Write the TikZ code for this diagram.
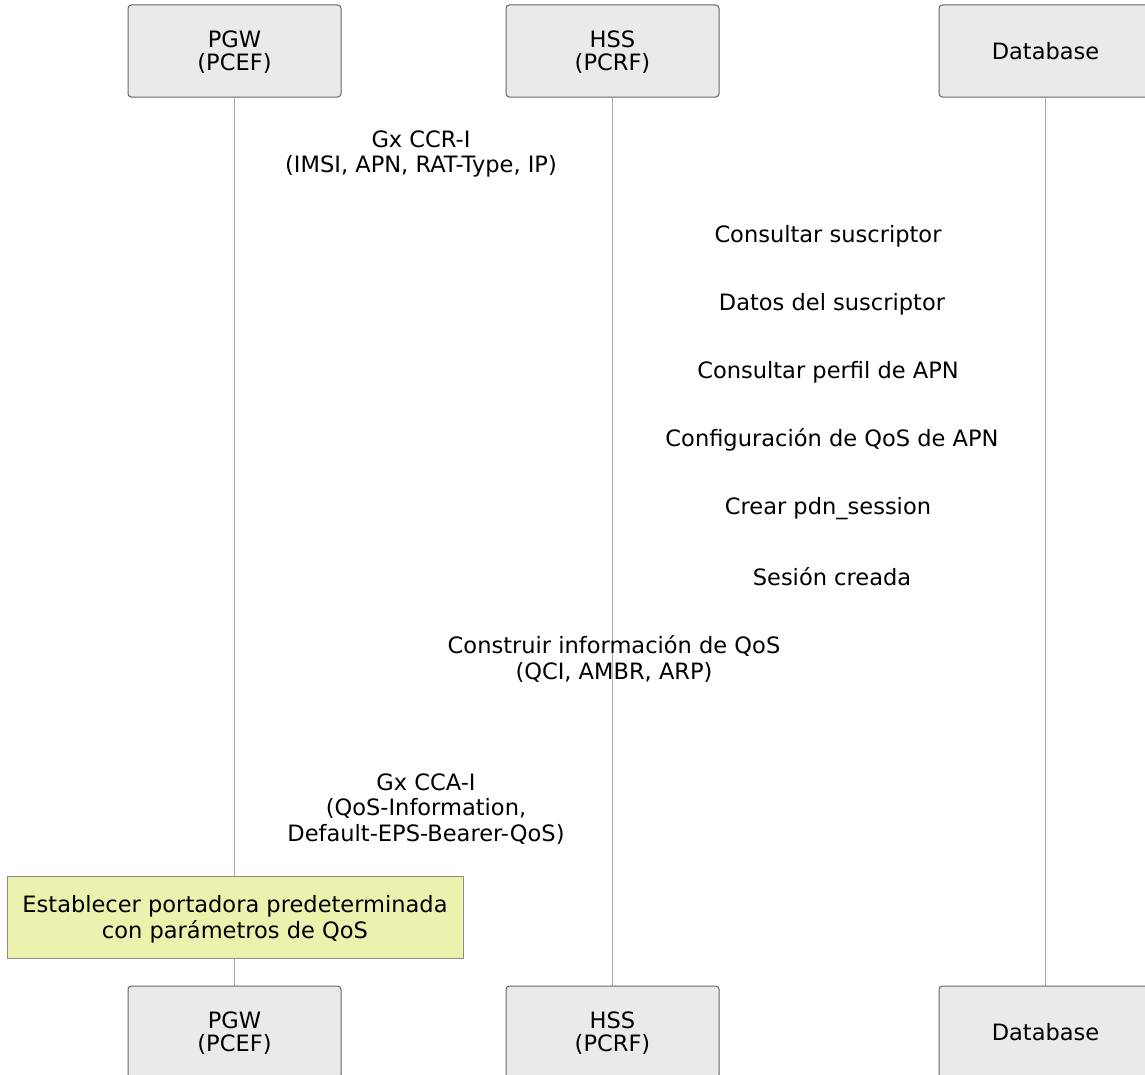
\documentclass[tikz,border=0pt]{standalone}
\usepackage{fontspec}
\setmainfont{DejaVu Sans}
\usepackage{tikz}
\usetikzlibrary{positioning}
\definecolor{boxfill}{RGB}{234,234,234}
\definecolor{boxline}{RGB}{102,102,102}
\definecolor{lifeline}{RGB}{170,170,170}
\definecolor{notefill}{RGB}{236,242,174}
\definecolor{noteline}{RGB}{140,140,140}
\tikzstyle{actor} = [rectangle, rounded corners=2.5pt, minimum width=159.75pt, minimum height=69pt, align=center, draw=boxline, line width=0.75pt, fill=boxfill, font=\fontsize{16.9}{17.3}\selectfont]
\tikzstyle{msg} = [align=center, inner sep=0pt, font=\fontsize{16.9}{19.2}\selectfont]
\tikzstyle{note} = [rectangle, minimum width=342pt, minimum height=61.5pt, align=center, draw=noteline, line width=0.75pt, fill=notefill, font=\fontsize{16.9}{20}\selectfont]
\tikzstyle{life} = [draw=lifeline, line width=0.75pt]

\begin{document}
\begin{tikzpicture}[x=0.75pt, y=-0.75pt]
        \clip (0,0) rectangle (1145,1074);
        \fill[white] (0,0) rectangle (1145,1074);

        % participants, top and bottom
        \node (pgw) [actor] at (234.5,51) {\rule{0pt}{14pt}PGW\\(PCEF)};
        \node (hss) [actor] at (612.5,51) {\rule{0pt}{14pt}HSS\\(PCRF)};
        \node (db) [actor] at (1045.5,51) {Database};
        \node (pgwb) [actor] at (234.5,1032) {\rule{0pt}{14pt}PGW\\(PCEF)};
        \node (hssb) [actor] at (612.5,1032) {\rule{0pt}{14pt}HSS\\(PCRF)};
        \node (dbb) [actor] at (1045.5,1032) {Database};

        \draw [life] (pgw.south) -- (pgwb.north);
        \draw [life] (hss.south) -- (hssb.north);
        \draw [life] (db.south) -- (dbb.north);

        % messages
        \node (ccr) [msg] at (421,154) {Gx CCR-I\\(IMSI, APN, RAT-Type, IP)};
        \node (qsub) [msg] at (828,236) {Consultar suscriptor};
        \node (dsub) [msg] at (832,304) {Datos del suscriptor};
        \node (qapn) [msg] at (828,372) {Consultar perfil de APN};
        \node (capn) [msg] at (832,440) {Configuración de QoS de APN};
        \node (pdn) [msg] at (828,509) {Crear pdn\_session};
        \node (ses) [msg] at (832,577) {Sesión creada};
        \node (qos) [msg] at (614,659) {Construir información de QoS\\(QCI, AMBR, ARP)};
        \node (cca) [msg] at (426,809) {Gx CCA-I\\(QoS-Information,\\Default-EPS-Bearer-QoS)};

        \node (bearer) [note] at (235,917) {\rule{0pt}{16pt}Establecer portadora predeterminada\\con parámetros de QoS};
        \end{tikzpicture}
\end{document}
